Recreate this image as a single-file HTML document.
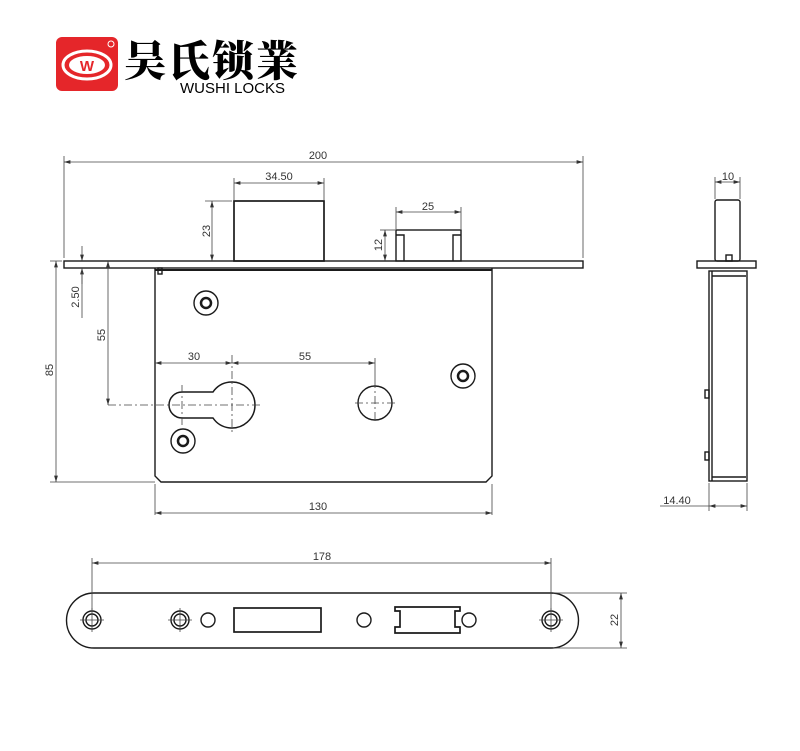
<!DOCTYPE html>
<html><head><meta charset="utf-8"><style>
html,body{margin:0;padding:0;background:#fff;width:800px;height:751px;overflow:hidden}
svg{display:block}
text{font-family:"Liberation Sans",sans-serif;font-size:11px;fill:#333}
</style></head><body>
<svg width="800" height="751" viewBox="0 0 800 751" xmlns="http://www.w3.org/2000/svg">
<defs>
<marker id="a" viewBox="0 0 10 6" refX="10" refY="3" markerWidth="8" markerHeight="5" orient="auto-start-reverse"><path d="M0,0L10,3L0,6z" fill="#333"/></marker>
</defs>
<!-- logo -->
<rect x="56" y="37" width="62" height="54" rx="6" fill="#e5262a"/>
<ellipse cx="87" cy="65" rx="24" ry="14" fill="none" stroke="#fff" stroke-width="3"/>
<ellipse cx="87" cy="65" rx="18" ry="9" fill="#fff"/>
<text x="87" y="71" text-anchor="middle" style="font-size:15px;font-weight:bold;fill:#e5262a">W</text>
<circle cx="111" cy="44" r="3" fill="none" stroke="#fff" stroke-width="1"/>
<text x="124" y="76" style="font-family:'Noto Serif CJK SC','WenQuanYi Zen Hei',serif;font-size:42px;font-weight:900;fill:#000;letter-spacing:2px">吴氏锁業</text>
<text x="180" y="93" style="font-size:15px;fill:#000">WUSHI LOCKS</text>

<g fill="none" stroke="#1a1a1a" stroke-width="1.4">
<!-- front view -->
<rect x="64" y="261" width="519" height="7"/>
<path d="M155,268V476L161,482H486L492,476V268"/>
<line x1="155" y1="270" x2="492" y2="270" stroke-width="2"/>
<rect x="234" y="201" width="90" height="60" stroke-width="1.7"/>
<rect x="396" y="230" width="65" height="31"/>
<path d="M396,235H404V261M461,235H453V261"/>
<rect x="158" y="268" width="4" height="6"/>
<!-- keyhole -->
<path d="M182,392H213A23,23 0 1 1 213,418H182A13,13 0 0 1 182,392Z" stroke-width="1.5"/>
<circle cx="375" cy="403" r="17"/>
<circle cx="206" cy="303" r="12"/><circle cx="206" cy="303" r="5" stroke-width="2.5"/>
<circle cx="463" cy="376" r="12"/><circle cx="463" cy="376" r="5" stroke-width="2.5"/>
<circle cx="183" cy="441" r="12"/><circle cx="183" cy="441" r="5" stroke-width="2.5"/>
<!-- side view -->
<rect x="697" y="261" width="59" height="7"/>
<rect x="715" y="200" width="25" height="61" rx="2"/>
<rect x="709" y="271" width="38" height="210"/>
<line x1="712" y1="271" x2="712" y2="481"/>
<rect x="726" y="255" width="6" height="6"/>
<line x1="712" y1="276" x2="746" y2="276"/>
<line x1="712" y1="477" x2="746" y2="477"/>
<rect x="705" y="390" width="4" height="8"/><rect x="705" y="452" width="4" height="8"/>
<!-- strike plate -->
<path d="M94,593H551A27.5,27.5 0 0 1 551,648H94A27.5,27.5 0 0 1 94,593Z"/>
<circle cx="92" cy="620" r="9"/><circle cx="92" cy="620" r="6"/>
<circle cx="180" cy="620" r="9"/><circle cx="180" cy="620" r="6"/>
<circle cx="208" cy="620" r="7"/>
<rect x="234" y="608" width="87" height="24" stroke-width="1.7"/>
<circle cx="364" cy="620" r="7"/>
<path d="M395,607H460V611H455V627H460V633H395V627H400V611H395Z" stroke-width="1.7"/>
<circle cx="469" cy="620" r="7"/>
<circle cx="551" cy="620" r="9"/><circle cx="551" cy="620" r="6"/>
</g>

<!-- centre lines -->
<g stroke="#444" stroke-width="0.8" stroke-dasharray="8,3,2,3" fill="none">
<line x1="108" y1="405" x2="262" y2="405"/>
<line x1="232" y1="355" x2="232" y2="435"/>
<line x1="182" y1="385" x2="182" y2="425"/>
<line x1="355" y1="403" x2="395" y2="403"/>
<line x1="375" y1="380" x2="375" y2="422"/>
</g>
<g stroke="#444" stroke-width="0.8" fill="none">
<line x1="80" y1="620" x2="104" y2="620"/><line x1="92" y1="608" x2="92" y2="632"/>
<line x1="168" y1="620" x2="192" y2="620"/><line x1="180" y1="608" x2="180" y2="632"/>
<line x1="539" y1="620" x2="563" y2="620"/><line x1="551" y1="608" x2="551" y2="632"/>
</g>

<!-- dimensions -->
<g stroke="#444" stroke-width="0.8" fill="none">
<path d="M64,156V258M583,156V258"/>
<line x1="64" y1="162" x2="583" y2="162" marker-start="url(#a)" marker-end="url(#a)"/>
<path d="M234,178V200M324,178V200"/>
<line x1="234" y1="183" x2="324" y2="183" marker-start="url(#a)" marker-end="url(#a)"/>
<path d="M205,201H232"/>
<line x1="212" y1="201" x2="212" y2="261" marker-start="url(#a)" marker-end="url(#a)"/>
<path d="M396,207V229M461,207V229"/>
<line x1="396" y1="212" x2="461" y2="212" marker-start="url(#a)" marker-end="url(#a)"/>
<path d="M380,230H395"/>
<line x1="385" y1="230" x2="385" y2="261" marker-start="url(#a)" marker-end="url(#a)"/>
<path d="M50,261H62M50,482H155M155,484V515M492,484V515"/>
<line x1="56" y1="261" x2="56" y2="482" marker-start="url(#a)" marker-end="url(#a)"/>
<line x1="82" y1="246" x2="82" y2="261" marker-end="url(#a)"/>
<line x1="82" y1="284" x2="82" y2="268" marker-end="url(#a)"/>
<line x1="82" y1="268" x2="82" y2="318"/>
<line x1="108" y1="261" x2="108" y2="405" marker-start="url(#a)" marker-end="url(#a)"/>
<line x1="155" y1="363" x2="232" y2="363" marker-start="url(#a)" marker-end="url(#a)"/>
<line x1="232" y1="363" x2="375" y2="363" marker-start="url(#a)" marker-end="url(#a)"/>
<path d="M375,358V380"/>
<line x1="155" y1="513" x2="492" y2="513" marker-start="url(#a)" marker-end="url(#a)"/>
<path d="M715,177V199M740,177V199"/>
<line x1="715" y1="182" x2="740" y2="182" marker-start="url(#a)" marker-end="url(#a)"/>
<path d="M709,483V511M747,483V511"/>
<line x1="660" y1="506" x2="709" y2="506"/>
<line x1="709" y1="506" x2="747" y2="506" marker-start="url(#a)" marker-end="url(#a)"/>
<path d="M92,558V610M551,558V610"/>
<line x1="92" y1="563" x2="551" y2="563" marker-start="url(#a)" marker-end="url(#a)"/>
<path d="M553,593H627M553,648H627"/>
<line x1="621" y1="593" x2="621" y2="648" marker-start="url(#a)" marker-end="url(#a)"/>
</g>
<text x="318" y="159" text-anchor="middle">200</text>
<text x="279" y="180" text-anchor="middle">34.50</text>
<text x="428" y="210" text-anchor="middle">25</text>
<text x="194" y="360" text-anchor="middle">30</text>
<text x="305" y="360" text-anchor="middle">55</text>
<text x="318" y="510" text-anchor="middle">130</text>
<text x="728" y="180" text-anchor="middle">10</text>
<text x="677" y="504" text-anchor="middle">14.40</text>
<text x="322" y="560" text-anchor="middle">178</text>
<text transform="translate(210,231) rotate(-90)" text-anchor="middle">23</text>
<text transform="translate(382,245) rotate(-90)" text-anchor="middle">12</text>
<text transform="translate(53,370) rotate(-90)" text-anchor="middle">85</text>
<text transform="translate(79,297) rotate(-90)" text-anchor="middle">2.50</text>
<text transform="translate(105,335) rotate(-90)" text-anchor="middle">55</text>
<text transform="translate(618,620) rotate(-90)" text-anchor="middle">22</text>
</svg>
</body></html>
